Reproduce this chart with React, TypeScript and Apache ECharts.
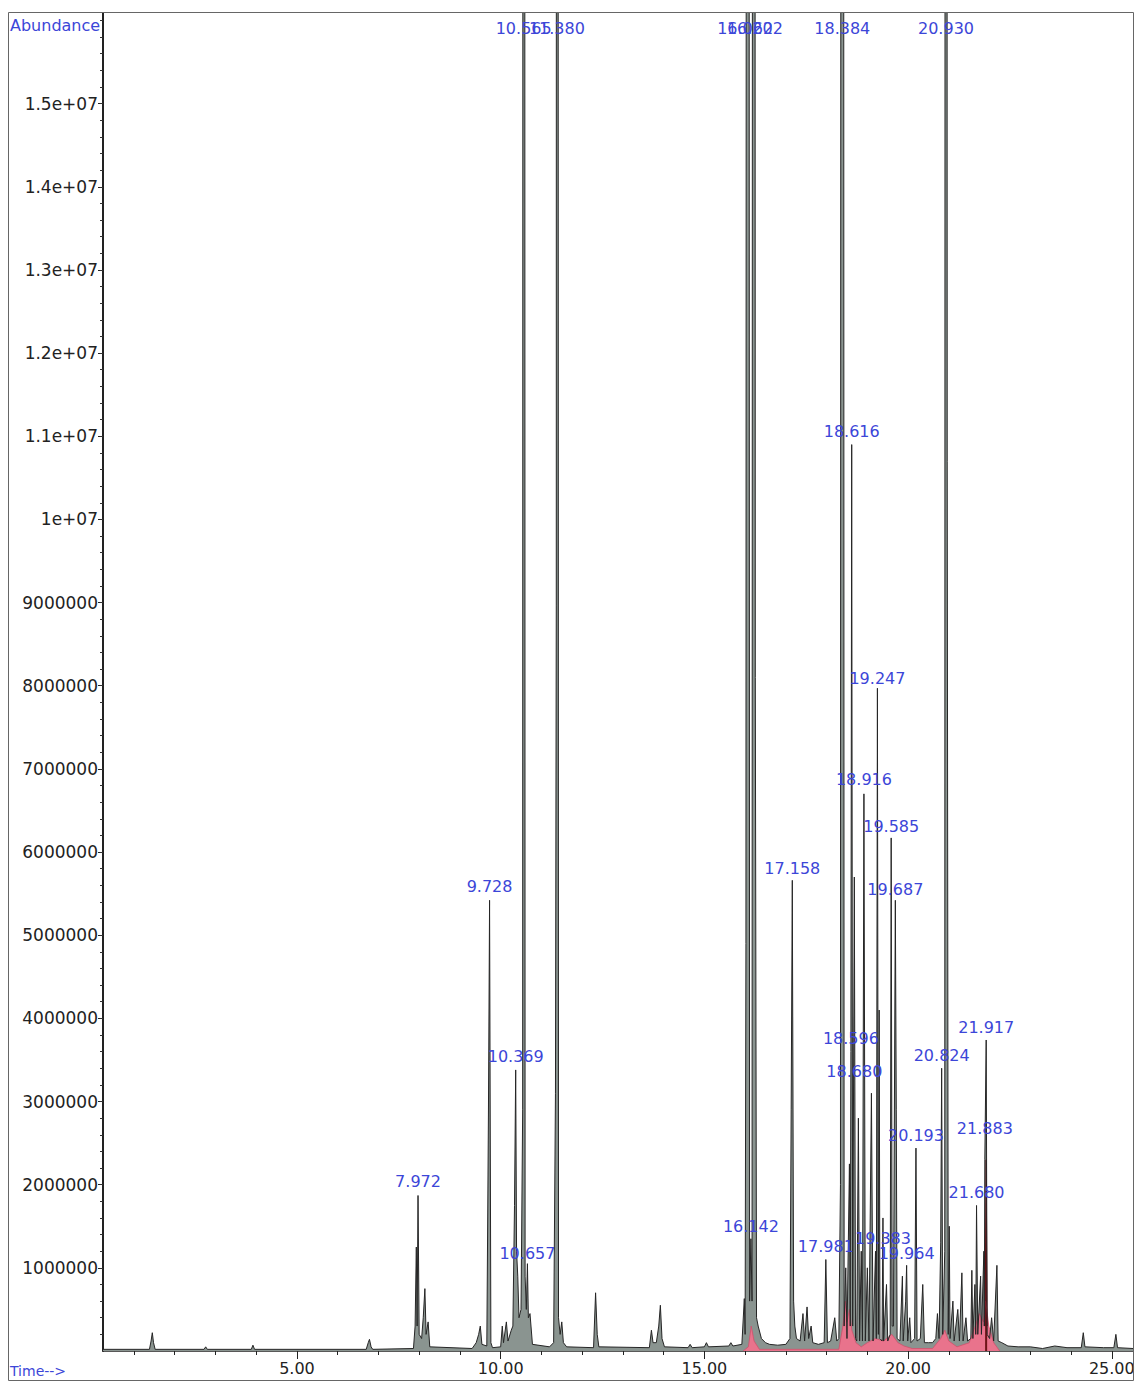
import React, { useEffect, useRef } from "react";
import * as echarts from "echarts";

// Total ion chromatogram, [time (min), abundance (millions)]
const ticTrace: number[][] = [
  [0.24, 0.02], [1.38, 0.02], [1.42, 0.12], [1.45, 0.22], [1.48, 0.1], [1.52, 0.02],
  [2.72, 0.02], [2.76, 0.05], [2.8, 0.02],
  [3.88, 0.02], [3.92, 0.07], [3.96, 0.02],
  [6.7, 0.02], [6.75, 0.1], [6.78, 0.14], [6.82, 0.05], [6.86, 0.02],
  [7.86, 0.03], [7.9, 0.3], [7.93, 1.25], [7.95, 0.3], [7.972, 1.87], [8.0, 0.2], [8.06, 0.15], [8.1, 0.4], [8.14, 0.75], [8.17, 0.2], [8.22, 0.35], [8.26, 0.05],
  [9.3, 0.03], [9.4, 0.1], [9.46, 0.2], [9.5, 0.3], [9.54, 0.08], [9.66, 0.06], [9.7, 2.85], [9.728, 5.42], [9.76, 0.1], [9.8, 0.04],
  [10.0, 0.05], [10.04, 0.3], [10.07, 0.1], [10.14, 0.35], [10.18, 0.12], [10.26, 0.25], [10.3, 0.3], [10.34, 1.75], [10.369, 3.38], [10.39, 1.2], [10.42, 0.9], [10.45, 0.4], [10.5, 0.5], [10.54, 2.9], [10.565, 80], [10.6, 0.9], [10.63, 0.5], [10.657, 1.05], [10.68, 0.4], [10.72, 0.45], [10.78, 0.08],
  [11.2, 0.05], [11.3, 0.1], [11.345, 3.1], [11.365, 8.97], [11.38, 80], [11.42, 0.4], [11.46, 0.2], [11.5, 0.35], [11.54, 0.1], [11.62, 0.05],
  [12.28, 0.04], [12.33, 0.7], [12.37, 0.2], [12.41, 0.05],
  [13.65, 0.04], [13.7, 0.25], [13.74, 0.1], [13.82, 0.1], [13.88, 0.3], [13.92, 0.55], [13.96, 0.15], [14.02, 0.05],
  [14.6, 0.04], [14.65, 0.08], [14.7, 0.04], [15.0, 0.05], [15.05, 0.1], [15.1, 0.05], [15.6, 0.06], [15.65, 0.1], [15.7, 0.06],
  [15.92, 0.08], [15.98, 0.63], [16.0, 0.2], [16.02, 4.9], [16.06, 80], [16.11, 0.6], [16.142, 1.35], [16.17, 0.6], [16.21, 80], [16.25, 8.1], [16.28, 0.4], [16.32, 0.3], [16.4, 0.15], [16.5, 0.1], [16.6, 0.08], [16.8, 0.07],
  [17.0, 0.08], [17.1, 0.15], [17.13, 2.9], [17.158, 5.66], [17.19, 0.6], [17.22, 0.3], [17.26, 0.15], [17.35, 0.12], [17.42, 0.45], [17.46, 0.12], [17.52, 0.53], [17.56, 0.15], [17.62, 0.3], [17.66, 0.1], [17.8, 0.08],
  [17.94, 0.1], [17.981, 1.1], [18.02, 0.1], [18.1, 0.12], [18.2, 0.4], [18.25, 0.12],
  [18.3, 0.15], [18.34, 2.0], [18.384, 80], [18.43, 0.3], [18.47, 1.0], [18.5, 0.15], [18.56, 2.25], [18.58, 0.3], [18.596, 3.6], [18.616, 10.9], [18.64, 0.3], [18.68, 5.7], [18.71, 0.15], [18.74, 0.12], [18.78, 2.8], [18.81, 0.12], [18.85, 1.2], [18.88, 0.12], [18.916, 6.7], [18.95, 0.12],
  [19.0, 1.0], [19.04, 0.12], [19.1, 3.1], [19.14, 0.12], [19.2, 1.2], [19.22, 0.15], [19.247, 7.97], [19.27, 0.2], [19.29, 4.1], [19.31, 0.15], [19.36, 0.12], [19.383, 1.6], [19.4, 0.12], [19.47, 0.8], [19.5, 0.12], [19.56, 0.2], [19.585, 6.17], [19.61, 0.3], [19.64, 0.3], [19.687, 5.42], [19.71, 2.9], [19.73, 0.15], [19.8, 0.12], [19.86, 0.9], [19.88, 0.12], [19.94, 0.6], [19.964, 1.03], [19.99, 0.12],
  [20.04, 0.4], [20.07, 0.1], [20.16, 0.15], [20.193, 2.44], [20.22, 0.12], [20.3, 0.15], [20.36, 0.8], [20.4, 0.1], [20.5, 0.1], [20.6, 0.1], [20.68, 0.15], [20.72, 0.45], [20.76, 0.15], [20.8, 1.3], [20.824, 3.4], [20.85, 0.2], [20.9, 1.2], [20.93, 80], [20.96, 10.7], [20.985, 0.2],
  [21.01, 1.5], [21.03, 0.15], [21.1, 0.6], [21.13, 0.12], [21.22, 0.5], [21.26, 0.12], [21.32, 0.94], [21.35, 0.12], [21.42, 0.4], [21.46, 0.12], [21.54, 0.15], [21.565, 0.97], [21.59, 0.15], [21.64, 0.8], [21.66, 0.2], [21.68, 1.75], [21.71, 0.2], [21.78, 0.9], [21.8, 0.2], [21.86, 1.2], [21.87, 0.3], [21.883, 2.3], [21.917, 3.74], [21.94, 0.2],
  [22.0, 0.15], [22.05, 0.4], [22.1, 0.12], [22.18, 1.03], [22.21, 0.12], [22.3, 0.1], [22.45, 0.06], [22.7, 0.05], [23.0, 0.05], [23.3, 0.03], [23.6, 0.06], [23.9, 0.04],
  [24.25, 0.04], [24.3, 0.22], [24.34, 0.05], [24.8, 0.04], [25.05, 0.04], [25.1, 0.2], [25.14, 0.04], [25.52, 0.03],
];

// Overlaid (pink) trace, [time, abundance (millions)]
const pinkTrace: number[][] = [
  [15.95, 0.0], [16.08, 0.05], [16.15, 0.3], [16.22, 0.12], [16.35, 0.02],
  [18.3, 0.02], [18.4, 0.3], [18.46, 0.6], [18.5, 0.35], [18.56, 0.5], [18.62, 0.25], [18.72, 0.1], [18.85, 0.05], [19.0, 0.1], [19.2, 0.15], [19.4, 0.12], [19.6, 0.2], [19.75, 0.1], [19.9, 0.06], [20.1, 0.03],
  [20.6, 0.03], [20.8, 0.15], [20.9, 0.25], [21.0, 0.12], [21.2, 0.05], [21.5, 0.1], [21.65, 0.3], [21.75, 0.45], [21.85, 0.35], [21.9, 0.6], [21.93, 0.5], [21.98, 0.3], [22.1, 0.1], [22.25, 0.0],
];

const redSpike: number[][] = [[21.89, 0.3], [21.917, 2.3], [21.94, 0.3]];

// Peak labels
const peakLabelText = ["7.972", "9.728", "10.369", "10.565", "10.657", "11.380", "16.062", "16.202", "16.142", "17.158", "17.981", "18.384", "18.596", "18.616", "18.680", "18.916", "19.247", "19.383", "19.585", "19.687", "19.964", "20.193", "20.824", "20.930", "21.680", "21.883", "21.917"];
const peakLabelTime = [7.972, 9.728, 10.369, 10.565, 10.657, 11.38, 16.0, 16.24, 16.142, 17.158, 17.981, 18.384, 18.596, 18.616, 18.68, 18.916, 19.247, 19.383, 19.585, 19.687, 19.964, 20.193, 20.824, 20.93, 21.68, 21.883, 21.917];
const peakLabelAbund = [1.87, 5.42, 3.38, 15.74, 1.01, 15.74, 15.74, 15.74, 1.34, 5.64, 1.1, 15.74, 3.6, 10.9, 3.2, 6.71, 7.93, 1.19, 6.15, 5.39, 1.01, 2.43, 3.39, 15.74, 1.74, 2.51, 3.73];

// Axis ticks
const xLabelValues = [5, 10, 15, 20, 25];
const xMinorTicks = [1, 2, 3, 4, 5, 6, 7, 8, 9, 10, 11, 12, 13, 14, 15, 16, 17, 18, 19, 20, 21, 22, 23, 24, 25];
const yLabelValues = [1, 2, 3, 4, 5, 6, 7, 8, 9, 10, 11, 12, 13, 14, 15];
const yMinorTicks: number[] = [];
for (let i = 1; i <= 80; i++) yMinorTicks.push(Math.round(i * 2) / 10);

const X_MIN = 0.24;
const X_MAX = 25.52;
const Y_MAX = 16.09;

const AXIS_FONT = "DejaVu Sans";
const BLUE = "#3c46d8";

function yFmt(v: number): string {
  const r = Math.round(v);
  if (r >= 10) {
    if (r === 10) return "1e+07";
    return (r / 10).toFixed(1) + "e+07";
  }
  return String(r * 1000000);
}

export default function App() {
  const ref = useRef<HTMLDivElement>(null);
  useEffect(() => {
    if (!ref.current) return;
    const chart = echarts.init(ref.current, null, { renderer: "svg" });
    const labelData = peakLabelTime.map((t, i) => [t, peakLabelAbund[i], peakLabelText[i]]);
    chart.setOption({
      animation: false,
      backgroundColor: "#ffffff",
      grid: { left: 103, top: 13, right: 2, bottom: 32, containLabel: false, outerBoundsMode: "none" },
      xAxis: [
        {
          type: "value", position: "bottom", min: X_MIN, max: X_MAX,
          axisLine: { show: true, onZero: false, lineStyle: { color: "#222", width: 1.5 } },
          axisTick: { show: true, customValues: xMinorTicks, length: 4, lineStyle: { color: "#222" } },
          axisLabel: {
            show: true, customValues: xLabelValues, margin: 9,
            formatter: (v: number) => v.toFixed(2),
            fontSize: 16, fontFamily: AXIS_FONT, color: "#222",
          },
          splitLine: { show: false },
        },
        {
          type: "value", position: "bottom", min: X_MIN, max: X_MAX,
          axisLine: { show: false },
          axisTick: { show: true, customValues: xLabelValues, length: 8, lineStyle: { color: "#222" } },
          axisLabel: { show: false },
          splitLine: { show: false },
        },
      ],
      yAxis: [
        {
          type: "value", position: "left", min: 0, max: Y_MAX,
          axisLine: { show: true, onZero: false, lineStyle: { color: "#222", width: 2 } },
          axisTick: { show: true, customValues: yLabelValues, length: 5, lineStyle: { color: "#222" } },
          axisLabel: {
            show: true, customValues: yLabelValues, margin: 5,
            formatter: (v: number) => yFmt(v),
            fontSize: 17, fontFamily: AXIS_FONT, color: "#222",
          },
          splitLine: { show: false },
        },
        {
          type: "value", position: "left", min: 0, max: Y_MAX,
          axisLine: { show: false },
          axisTick: { show: true, customValues: yMinorTicks, length: 3, lineStyle: { color: "#333" } },
          axisLabel: { show: false },
          splitLine: { show: false },
        },
      ],
      series: [
        {
          type: "line", data: ticTrace, xAxisIndex: 0, yAxisIndex: 0,
          showSymbol: false, symbol: "none", clip: true, z: 2,
          lineStyle: { width: 0, opacity: 0 },
          areaStyle: { color: "#8a9490", opacity: 1 },
        },
        {
          type: "line", data: pinkTrace, xAxisIndex: 0, yAxisIndex: 0,
          showSymbol: false, symbol: "none", clip: true, z: 3,
          lineStyle: { width: 0.8, color: "#d0506c" },
          areaStyle: { color: "#e9738c", opacity: 1 },
        },
        {
          type: "line", data: redSpike, xAxisIndex: 0, yAxisIndex: 0,
          showSymbol: false, symbol: "none", clip: true, z: 3,
          lineStyle: { width: 1, color: "#5e0e12" },
          areaStyle: { color: "#6e1418", opacity: 1 },
        },
        {
          type: "line", data: ticTrace, xAxisIndex: 0, yAxisIndex: 0,
          showSymbol: false, symbol: "none", clip: true, z: 4,
          lineStyle: { width: 1, color: "#262626" },
        },
        {
          type: "scatter", data: labelData, xAxisIndex: 0, yAxisIndex: 0,
          symbolSize: 1, itemStyle: { color: "rgba(0,0,0,0)" }, z: 6, clip: false,
          label: {
            show: true, position: "top", distance: 5,
            formatter: (p: any) => p.value[2],
            color: BLUE, fontSize: 16, fontFamily: AXIS_FONT, opacity: 1,
          },
          labelLayout: { hideOverlap: false },
          emphasis: { disabled: true },
        },
      ],
      graphic: [
        {
          type: "rect", z: 10, silent: true,
          shape: { x: 8.5, y: 12.5, width: 1125, height: 1368 },
          style: { fill: "none", stroke: "#666", lineWidth: 1 },
        },
        {
          type: "text", x: 10, y: 17, z: 10, silent: true,
          style: { text: "Abundance", fill: BLUE, fontSize: 16, fontFamily: AXIS_FONT, verticalAlign: "top" },
        },
        {
          type: "text", x: 10, y: 1364, z: 10, silent: true,
          style: { text: "Time-->", fill: BLUE, fontSize: 14, fontFamily: AXIS_FONT, verticalAlign: "top" },
        },
      ],
    });
    return () => chart.dispose();
  }, []);
  return (
    <div
      ref={ref}
      style={{ position: "absolute", left: 0, top: 0, width: 1135, height: 1383, background: "#fff" }}
    />
  );
}
